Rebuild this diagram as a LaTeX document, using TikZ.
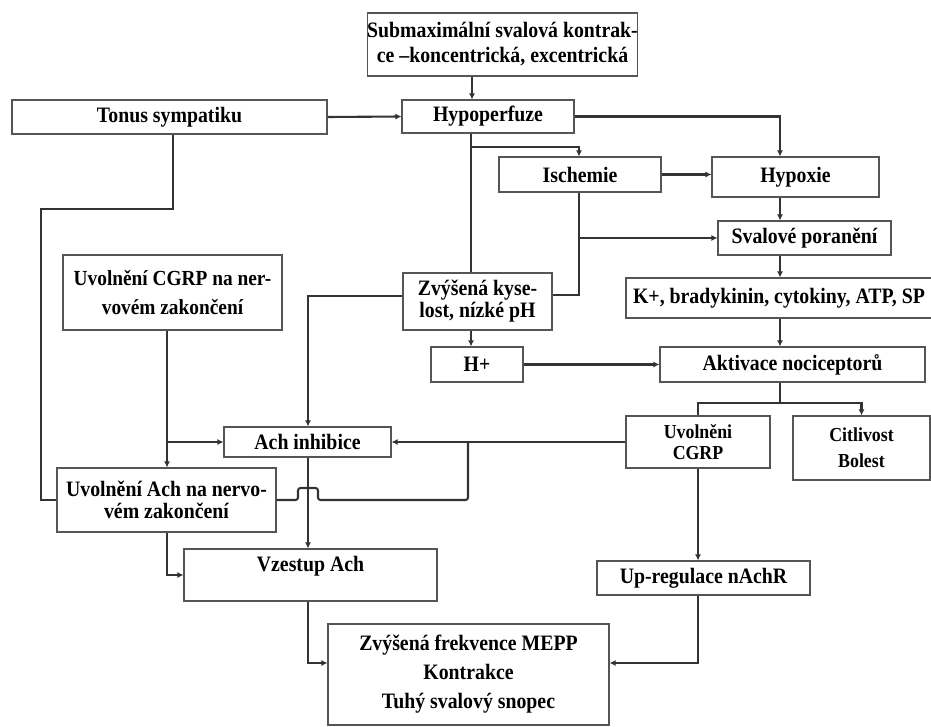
\documentclass[tikz,border=0pt]{standalone}
\usepackage{fontspec}
\setmainfont{Liberation Serif}[FakeStretch=0.9]
\usetikzlibrary{arrows.meta}
\definecolor{linec}{HTML}{333333}
\definecolor{boxc}{HTML}{555555}
\newcommand\fsz[2]{\fontsize{#1}{#2}\selectfont\bfseries}
\tikzset{
  box/.style={draw=boxc, line width=1.1pt, fill=white, inner sep=0pt, align=center, font=\fsz{22pt}{25pt}},
  ln/.style={draw=linec, line width=2.1pt},
  arr/.style={ln, -{Latex[length=6pt,width=6pt]}},
  txt/.style={inner sep=0pt, align=center, font=\fsz{22pt}{25pt}}
}
\begin{document}
\begin{tikzpicture}[x=1pt,y=-1pt]
\useasboundingbox (0,0) rectangle (931,727);
% columns and rows
\coordinate (x41) at (41,0);
\coordinate (x167) at (167,0);
\coordinate (x173) at (173,0);
\coordinate (x308) at (308,0);
\coordinate (x468) at (468,0);
\coordinate (x471) at (471,0);
\coordinate (x472) at (472,0);
\coordinate (x579) at (579,0);
\coordinate (x780) at (780,0);
\coordinate (y147) at (0,147);
\coordinate (y209) at (0,209);
\coordinate (y295) at (0,295);
\coordinate (y296) at (0,296);
\coordinate (y403) at (0,403);
\coordinate (y663) at (0,663);
% boxes
\node[box, minimum width=261pt, minimum height=63pt] (sub) at (502.5,44.5) {Submaximální svalová kontrak-\\ce –koncentrická, excentrická};
\node[box, minimum width=172pt, minimum height=33pt] (hyp) at (488,116.5) {Hypoperfuze};
\node[box, minimum width=315pt, minimum height=34pt] (ton) at (169.5,117) {Tonus sympatiku};
\node[box, minimum width=162pt, minimum height=35pt] (isc) at (580,174.5) {Ischemie};
\node[box, minimum width=167pt, minimum height=40pt] (hpx) at (795.5,177) {Hypoxie};
\node[box, minimum width=173pt, minimum height=34pt] (sval) at (804.5,238) {Svalové poranění};
\node[box, minimum width=149pt, minimum height=57pt, font=\fsz{22pt}{22pt}] (zvy) at (477.5,301.5) {Zvýšená kyse-\\lost, nízké pH};
\node[box, minimum width=306pt, minimum height=40pt] (kplus) at (779,298) {K+, bradykinin, cytokiny, ATP, SP};
\node[box, minimum width=265pt, minimum height=35pt] (akt) at (792.5,364.5) {Aktivace nociceptorů};
\node[box, minimum width=92pt, minimum height=35pt] (hplus) at (477,364.5) {H+};
\node[box, minimum width=144pt, minimum height=52pt, font=\fsz{19.8pt}{21.5pt}] (cgrpR) at (698,442) {Uvolněni\\CGRP};
\node[box, minimum width=137pt, minimum height=64pt, font=\fsz{19.8pt}{26pt}] (cit) at (861.5,448) {Citlivost\\Bolest};
\node[box, minimum width=213pt, minimum height=34pt] (upr) at (703.5,578) {Up-regulace nAchR};
\node[box, minimum width=219pt, minimum height=75pt, font=\fsz{21.5pt}{29pt}] (cgrpL) at (172.5,292.5) {Uvolnění CGRP na ner-\\vovém zakončení};
\node[box, minimum width=167pt, minimum height=30pt] (achi) at (307.5,442) {Ach inhibice};
\node[box, minimum width=219pt, minimum height=64pt, font=\fsz{22pt}{22pt}] (uach) at (166.5,500) {Uvolnění Ach na nervo-\\vém zakončení};
\node[box, minimum width=253pt, minimum height=52pt] (vze) at (310.5,575) {};
\node[txt] (vzet) at (310.5,566) {Vzestup Ach};
\node[box, minimum width=281pt, minimum height=101pt, font=\fsz{22pt}{29pt}] (mepp) at (468.5,674.5) {Zvýšená frekvence MEPP\\Kontrakce\\Tuhý svalový snopec};
% connectors
\draw[arr] (sub.south -| x472) -- (hyp.north -| x472);
\draw[arr] (ton.east) -- (hyp.west);
\draw[ln] (hyp.south -| x471) -- (zvy.north -| x471);
\draw[arr] (x471 |- y147) -| (isc.north -| x579);
\draw[arr] (hyp.east) -| (hpx.north -| x780);
\draw[arr] (isc.east) -- (isc.east -| hpx.west);
\draw[arr] (hpx.south -| x780) -- (sval.north -| x780);
\draw[ln] (isc.south -| x579) -- (x579 |- y295) -- (zvy.east |- y295);
\draw[arr] (x579 |- sval.west) -- (sval.west);
\draw[arr] (sval.south -| x780) -- (kplus.north -| x780);
\draw[arr] (kplus.south -| x780) -- (akt.north -| x780);
\draw[arr] (zvy.south -| x471) -- (hplus.north -| x471);
\draw[arr] (hplus.east) -- (hplus.east -| akt.west);
\draw[arr] (akt.south -| x780) -- (x780 |- y403) -| (cit.north);
\draw[ln] (x780 |- y403) -| (cgrpR.north);
\draw[arr] (cgrpR.south) -- (cgrpR.south |- upr.north);
\draw[arr] (cgrpR.west) -- (achi.east);
\draw[ln, rounded corners=2.5pt] (x468 |- cgrpR.west) -- (x468 |- uach.east) -- (318,500) -- (318,488) -- (298,488) -- (298,500) -- (uach.east);
\draw[ln] (ton.south -| x173) -- (x173 |- y209) -- (x41 |- y209) -- (x41 |- uach.west) -- (uach.west);
\draw[arr] (cgrpL.south -| x167) -- (uach.north -| x167);
\draw[arr] (x167 |- achi.west) -- (achi.west);
\draw[arr] (zvy.west |- y296) -| (achi.north -| x308);
\draw[arr] (achi.south -| x308) -- (vze.north -| x308);
\draw[arr] (uach.south -| x167) |- (vze.west);
\draw[arr] (vze.south -| x308) |- (mepp.west |- y663);
\draw[arr] (upr.south -| cgrpR.south) |- (mepp.east |- y663);
\end{tikzpicture}
\end{document}
